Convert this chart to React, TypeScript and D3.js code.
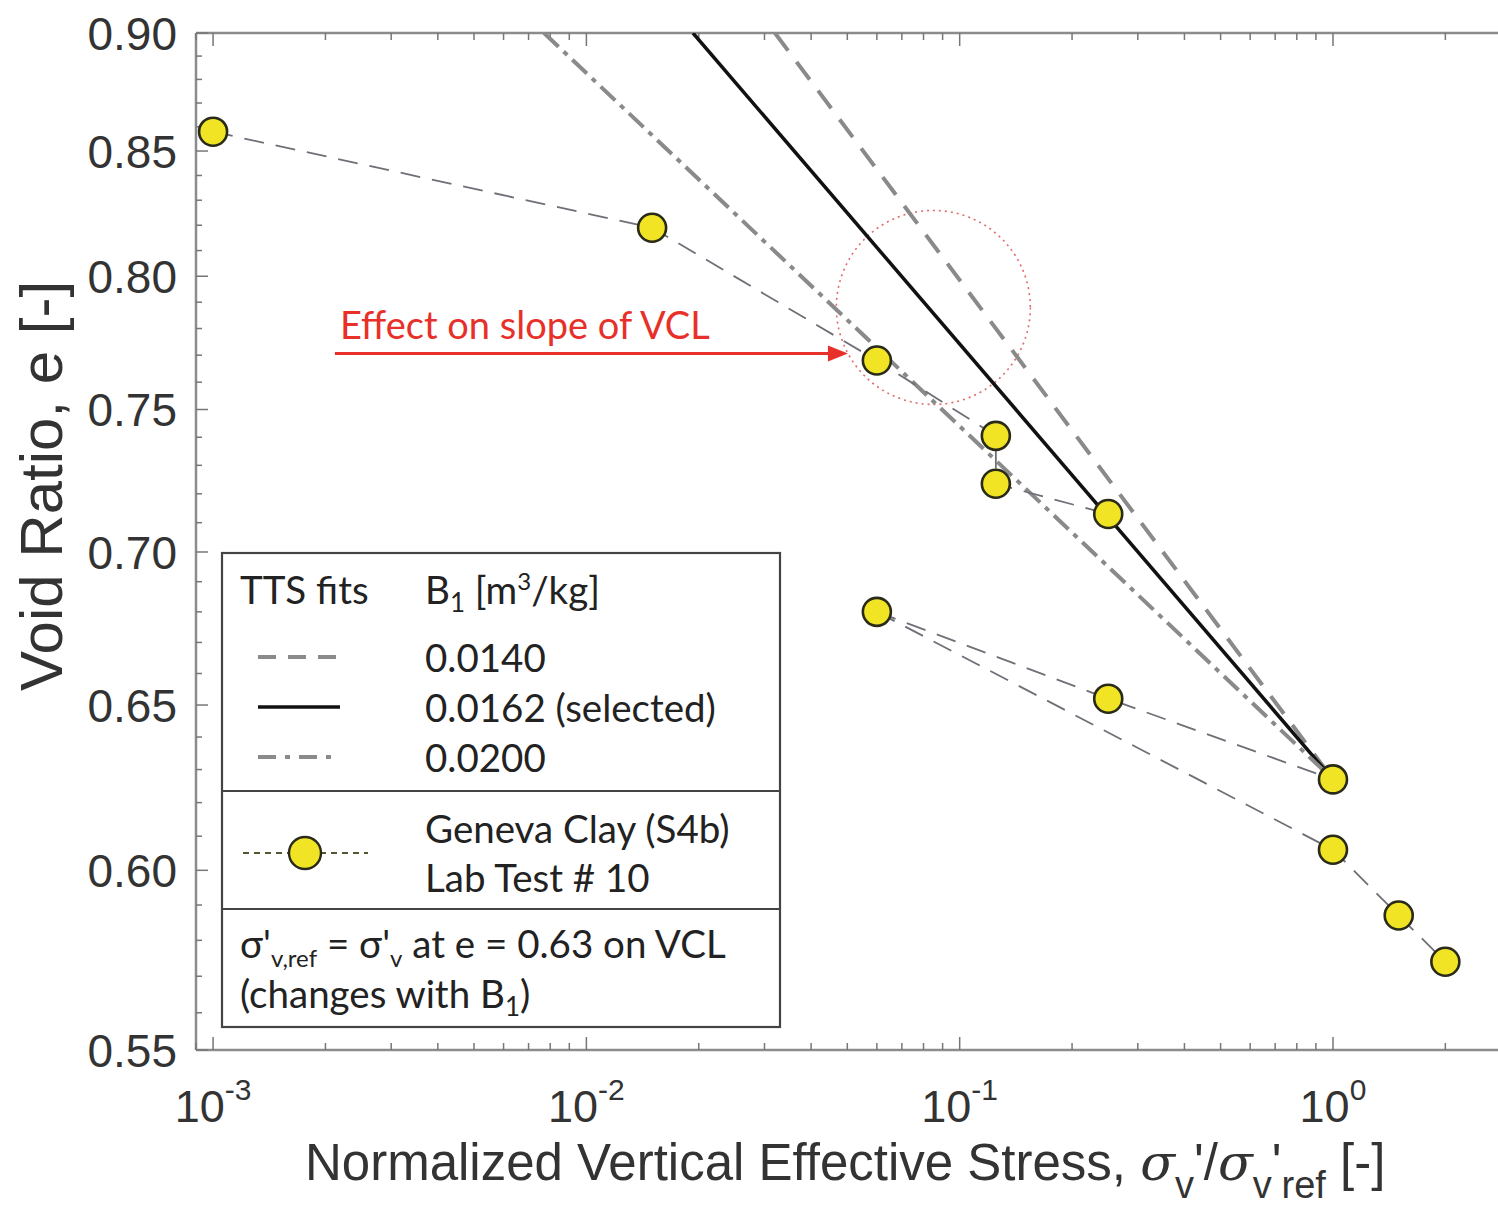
import React from 'react';
import * as d3 from 'd3';

// ---- data ----
const stress = [0.001, 0.015, 0.06, 0.125, 0.125, 0.25, 0.06, 0.25, 1.0, 1.0, 1.5, 2.0];
const voidRatio = [0.858, 0.819, 0.768, 0.7405, 0.7235, 0.713, 0.680, 0.652, 0.627, 0.606, 0.587, 0.574];
const dataPaths = [[0, 1, 2, 3, 4, 5], [6, 7, 8], [6, 9, 10, 11]];

const fitLabels = ['0.0140', '0.0162 (selected)', '0.0200'];
const fitStress = [[0.032, 1.0], [0.0193, 1.0], [0.0077, 1.0]];
const fitVoid = [[0.9, 0.627], [0.9, 0.627], [0.9, 0.627]];

const yTicks = [0.55, 0.6, 0.65, 0.7, 0.75, 0.8, 0.85, 0.9];
const xTicks = [0.001, 0.01, 0.1, 1];
const xTickExp = ['-3', '-2', '-1', '0'];

const W = 1498;
const H = 1207;
const L = 196, T = 33, B = 1050;
const xMin = 9e-4, xMax = 3;

const x = d3.scaleLog().domain([xMin, xMax]).range([L, L + 373.3 * Math.log10(xMax / xMin)]);
const y = d3.scaleLog().domain([0.55, 0.9]).range([B, T]);
const R = x(xMax);

const fitStyles = [
  { stroke: '#8a8a8a', width: 4, dash: '22 14' },
  { stroke: '#111', width: 3.5, dash: null },
  { stroke: '#8a8a8a', width: 4, dash: '20 7 5 7' },
];

const sans = '"Liberation Sans", Arial, Helvetica, sans-serif';
const cal = 'Lato, "Open Sans", sans-serif';

export default function App() {
  const line = d3.line<[number, number]>().x(d => x(d[0])).y(d => y(d[1]));

  const minorX: number[] = [];
  for (let d = -4; d <= 0; d++) {
    for (let k = 2; k <= 9; k++) {
      const v = k * Math.pow(10, d);
      if (v >= xMin && v <= xMax && !xTicks.includes(v)) minorX.push(v);
    }
  }
  const minorY: number[] = [];
  for (let v = 56; v < 90; v++) if (v % 5 !== 0) minorY.push(v / 100);

  const circX = x(0.085), circY = y(0.788);
  const arrY = y(0.7706);
  const arrX0 = x(0.00212), arrX1 = x(0.0502);

  const legX = 222, legY = 553, legW = 558, legH = 474;

  return (
    <svg width={W} height={H} style={{ position: 'absolute', left: 0, top: 0, background: '#fff' }}>
      <defs>
        <clipPath id="plotclip">
          <rect x={L} y={T} width={R - L} height={B - T} />
        </clipPath>
      </defs>
      <rect x={0} y={0} width={W} height={H} fill="#fff" />

      {/* axes frame */}
      <g stroke="#8c8c8c" strokeWidth={2.5} fill="none">
        <line x1={L} y1={T} x2={R} y2={T} />
        <line x1={L} y1={B} x2={R} y2={B} />
        <line x1={L} y1={T} x2={L} y2={B} />
        <line x1={R} y1={T} x2={R} y2={B} />
      </g>
      <g stroke="#777" strokeWidth={1.5}>
        {xTicks.map(v => (
          <g key={'xt' + v}>
            <line x1={x(v)} x2={x(v)} y1={B} y2={B - 13} />
            <line x1={x(v)} x2={x(v)} y1={T} y2={T + 13} />
          </g>
        ))}
        {minorX.map(v => (
          <g key={'xm' + v}>
            <line x1={x(v)} x2={x(v)} y1={B} y2={B - 7} />
            <line x1={x(v)} x2={x(v)} y1={T} y2={T + 7} />
          </g>
        ))}
        {yTicks.map(v => (
          <line key={'yt' + v} x1={L} x2={L + 12} y1={y(v)} y2={y(v)} />
        ))}
        {minorY.map(v => (
          <line key={'ym' + v} x1={L} x2={L + 6} y1={y(v)} y2={y(v)} />
        ))}
      </g>

      {/* tick labels */}
      <g fontFamily={sans} fill="#333">
        {yTicks.map(v => (
          <text key={'yl' + v} x={177} y={y(v)} dy="0.36em" textAnchor="end" fontSize={46}>
            {d3.format('.2f')(v)}
          </text>
        ))}
        {xTicks.map((v, i) => (
          <text key={'xl' + v} x={x(v)} y={1122} textAnchor="middle" fontSize={45}>
            10<tspan dy={-22} fontSize={30}>{xTickExp[i]}</tspan>
          </text>
        ))}
      </g>

      {/* axis titles */}
      <text x={305} y={1180} fontFamily={sans} fontSize={51} fill="#333">
        Normalized Vertical Effective Stress,{' '}
        <tspan fontFamily="'DejaVu Serif', serif" fontStyle="italic">σ</tspan>
        <tspan dy={18} fontSize={38}>v</tspan>
        <tspan dy={-18}>'/</tspan>
        <tspan fontFamily="'DejaVu Serif', serif" fontStyle="italic">σ</tspan>
        <tspan dy={18} fontSize={38}>v</tspan>
        <tspan dy={-18}>'</tspan>
        <tspan dy={18} fontSize={38}>ref</tspan>
        <tspan dy={-18}> [-]</tspan>
      </text>
      <text transform={`translate(62, 486) rotate(-90)`} textAnchor="middle" fontFamily={sans} fontSize={60} fill="#333">
        Void Ratio, e [-]
      </text>

      {/* plot content */}
      <g clipPath="url(#plotclip)">
        {/* red dotted circle */}
        <circle cx={circX} cy={circY} r={97} fill="none" stroke="#e06a6a" strokeWidth={1.6} strokeDasharray="2 4" />

        {/* fit lines */}
        {fitStress.map((xs, i) => {
          const pts = xs.map((v, j) => [v, fitVoid[i][j]] as [number, number]);
          const s = fitStyles[i];
          return (
            <path key={'fit' + i} d={line(pts) || ''} fill="none" stroke={s.stroke} strokeWidth={s.width}
              strokeDasharray={s.dash || undefined} />
          );
        })}

        {/* data connecting lines */}
        {dataPaths.map((idx, i) => (
          <path key={'dp' + i} d={line(idx.map(k => [stress[k], voidRatio[k]] as [number, number])) || ''}
            fill="none" stroke="#6f6f78" strokeWidth={1.8} strokeDasharray="20 12" />
        ))}

        {/* markers */}
        {stress.map((v, i) => (
          <circle key={'pt' + i} cx={x(v)} cy={y(voidRatio[i])} r={14} fill="#f0e424" stroke="#2a2a18" strokeWidth={2.6} />
        ))}
      </g>

      {/* annotation */}
      <text x={arrX0 + 5} y={arrY - 15} fontFamily={cal} fontSize={38} fill="#e8302a">Effect on slope of VCL</text>
      <line x1={arrX0} y1={arrY} x2={arrX1 - 16} y2={arrY} stroke="#e8302a" strokeWidth={3} />
      <path d={`M${arrX1},${arrY} L${arrX1 - 20},${arrY - 8} L${arrX1 - 20},${arrY + 8} Z`} fill="#e8302a" />

      {/* legend */}
      <g fontFamily={cal} fontSize={38.5} fill="#222">
        <rect x={legX} y={legY} width={legW} height={legH} fill="#fff" stroke="#444" strokeWidth={2.2} />
        <line x1={legX} x2={legX + legW} y1={791} y2={791} stroke="#444" strokeWidth={2.2} />
        <line x1={legX} x2={legX + legW} y1={909} y2={909} stroke="#444" strokeWidth={2.2} />

        <text x={240} y={604}>TTS fits</text>
        <text x={425} y={604}>B<tspan dy={8} fontSize={26}>1</tspan><tspan dy={-8}> [m</tspan><tspan dy={-14} fontSize={24}>3</tspan><tspan dy={14}>/kg]</tspan></text>

        {fitLabels.map((lab, i) => {
          const ly = 657 + i * 50;
          const s = fitStyles[i];
          return (
            <g key={'leg' + i}>
              <line x1={258} x2={340} y1={ly} y2={ly} stroke={s.stroke} strokeWidth={s.width}
                strokeDasharray={i === 0 ? '18 12' : i === 2 ? '18 9 5 9' : undefined} />
              <text x={425} y={ly + 15}>{lab}</text>
            </g>
          );
        })}

        <line x1={243} x2={368} y1={853} y2={853} stroke="#555530" strokeWidth={1.8} strokeDasharray="6 5" />
        <circle cx={305} cy={853} r={16} fill="#f0e424" stroke="#2a2a18" strokeWidth={2.4} />
        <text x={425} y={843}>Geneva Clay (S4b)</text>
        <text x={425} y={892}>Lab Test # 10</text>

        <text x={240} y={958}>σ'<tspan dy={9} fontSize={24}>v,ref</tspan><tspan dy={-9}> = σ'</tspan><tspan dy={9} fontSize={24}>v</tspan><tspan dy={-9}> at e = 0.63 on VCL</tspan></text>
        <text x={240} y={1008}>(changes with B<tspan dy={8} fontSize={26}>1</tspan><tspan dy={-8}>)</tspan></text>
      </g>
    </svg>
  );
}
